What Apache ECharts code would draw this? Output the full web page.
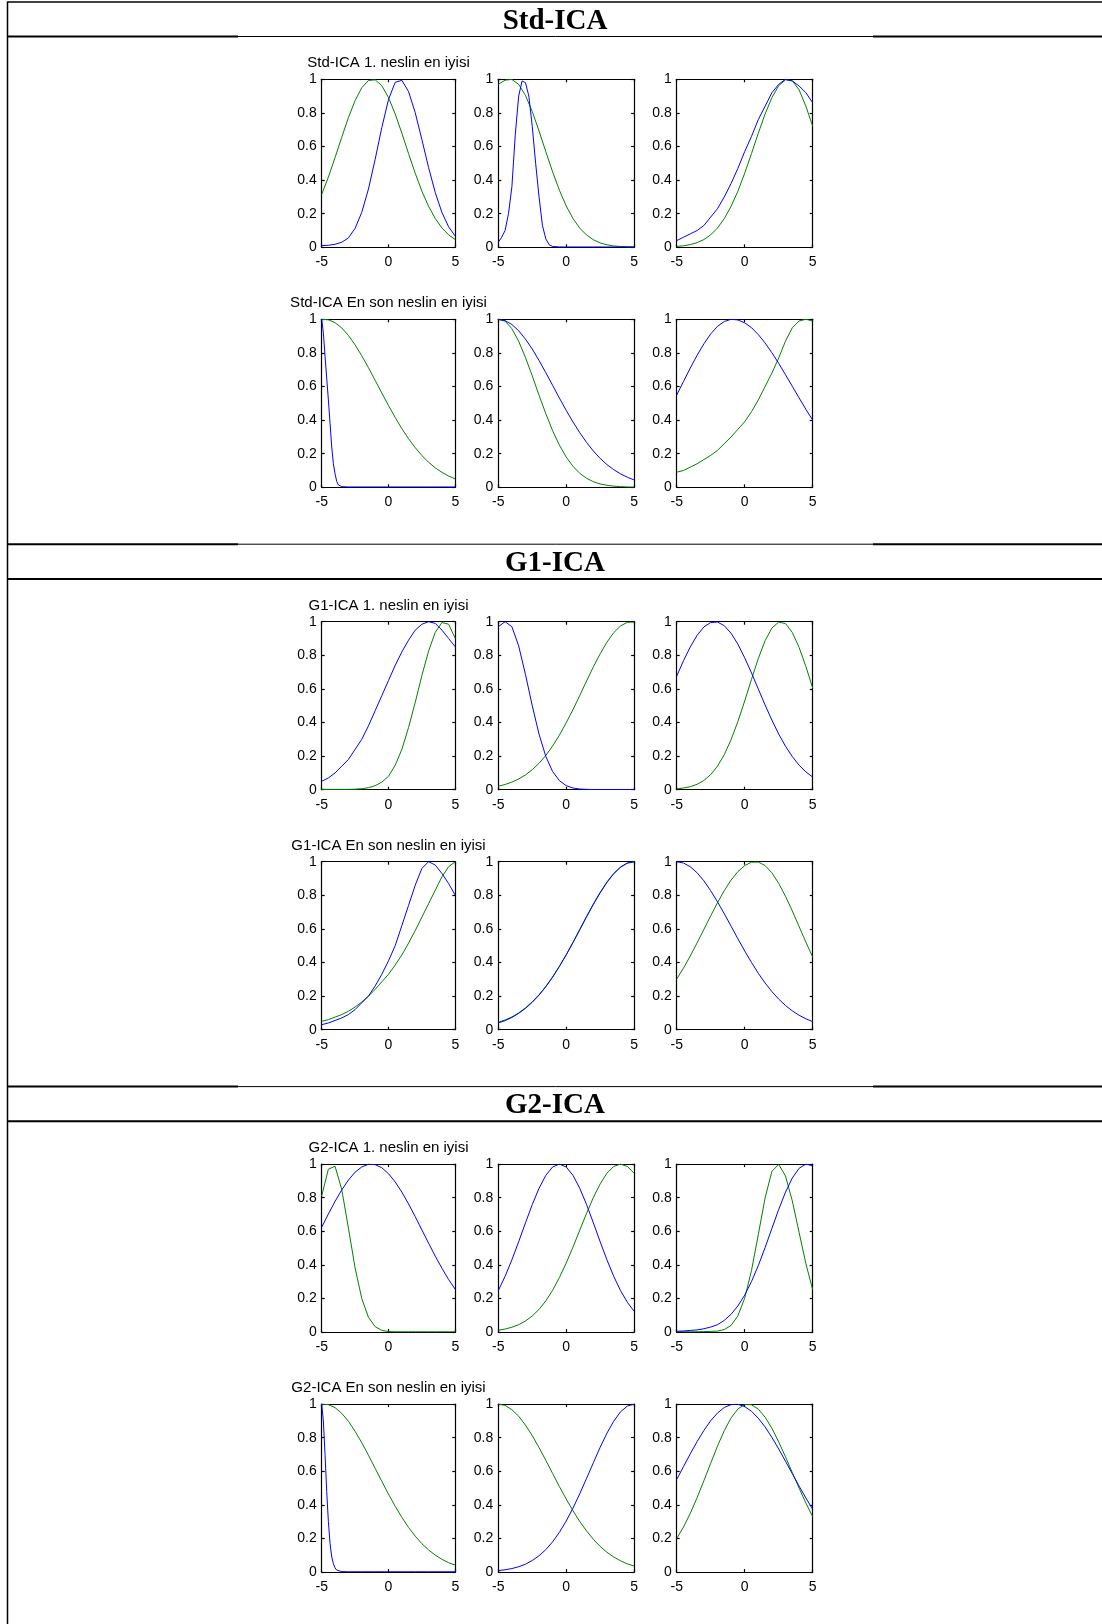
<!DOCTYPE html>
<html>
<head>
<meta charset="utf-8">
<script src="https://cdn.jsdelivr.net/npm/echarts@6/dist/echarts.min.js"></script>
<style>
  html, body { margin: 0; padding: 0; background: #fff; }
  #chart { width: 1102px; height: 1624px; }
</style>
</head>
<body>
<div id="chart"></div>
<script>
// ---- data -------------------------------------------------------------
const sectionNames = ['Std-ICA', 'G1-ICA', 'G2-ICA'];
const rowSuffixes = ['1. neslin en iyisi', 'En son neslin en iyisi'];
const xTickLabels = ['-5', '0', '5'];
const yTickLabels = ['0', '0.2', '0.4', '0.6', '0.8', '1'];

// common sampling of the input range
const xGrid = [-5,-4.5,-4,-3.5,-3,-2.5,-2,-1.5,-1,-0.5,0,0.5,1,1.5,2,2.5,3,3.5,4,4.5,5];
// denser sampling for the narrow membership functions
const xNarrowPeak = [-5,-4.75,-4.5,-4.25,-4,-3.75,-3.5,-3.25,-3,-2.75,-2.5,-2.25,-2,-1.75,-1.5,-1.25,-1,-0.5,0,1,2,3,4,5];
const xNarrowEdge = [-5,-4.875,-4.75,-4.625,-4.5,-4.375,-4.25,-4.125,-4,-3.875,-3.75,-3.5,-3,-2,-1,0,1,2,3,4,5];

// Std-ICA, first generation
const std1Blue1 = [0.01,0.012,0.018,0.03,0.056,0.113,0.208,0.347,0.523,0.713,0.88,0.982,0.994,0.927,0.801,0.641,0.475,0.326,0.207,0.122,0.066];
const std1Green1 = [0.315,0.418,0.534,0.655,0.772,0.873,0.95,0.993,0.997,0.962,0.891,0.794,0.679,0.558,0.441,0.334,0.244,0.171,0.115,0.074,0.046];
const std1Blue2 = [0.03,0.06,0.1,0.2,0.36,0.67,0.9,0.99,0.98,0.9,0.72,0.5,0.3,0.13,0.05,0.015,0.005,0.002,0.002,0.002,0.002,0.002,0.002,0.002];
const std1Green2 = [0.97,0.995,0.999,0.97,0.904,0.808,0.692,0.569,0.449,0.34,0.246,0.171,0.114,0.073,0.045,0.026,0.015,0.008,0.005,0.003,0.002];
const std1Blue3 = [0.04,0.06,0.08,0.1,0.13,0.18,0.23,0.3,0.38,0.47,0.57,0.66,0.76,0.84,0.92,0.97,1.0,0.99,0.96,0.92,0.86];
const std1Green3 = [0.005,0.009,0.016,0.028,0.046,0.074,0.115,0.171,0.244,0.334,0.441,0.558,0.679,0.794,0.891,0.962,0.997,0.991,0.937,0.84,0.72];
// Std-ICA, last generation
const stdLBlue1 = [1,0.92,0.78,0.65,0.52,0.38,0.24,0.14,0.08,0.035,0.014,0.004,0.002,0.002,0.002,0.002,0.002,0.002,0.002,0.002,0.002];
const stdLGreen1 = [1.0,0.997,0.98,0.949,0.904,0.848,0.783,0.712,0.637,0.561,0.487,0.416,0.349,0.289,0.236,0.189,0.149,0.116,0.089,0.067,0.05];
const stdLBlue2 = [1,0.992,0.969,0.932,0.882,0.823,0.755,0.682,0.607,0.531,0.458,0.389,0.325,0.267,0.216,0.172,0.135,0.105,0.08,0.06,0.044];
const stdLGreen2 = [1,0.989,0.944,0.869,0.773,0.663,0.548,0.438,0.337,0.251,0.18,0.125,0.083,0.054,0.033,0.02,0.012,0.007,0.004,0.002,0.001];
const stdLBlue3 = [0.549,0.63,0.71,0.786,0.854,0.913,0.958,0.987,1.0,0.996,0.979,0.95,0.909,0.859,0.801,0.738,0.67,0.601,0.532,0.464,0.4];
const stdLGreen3 = [0.09,0.1,0.12,0.14,0.165,0.19,0.22,0.26,0.3,0.345,0.39,0.45,0.52,0.6,0.68,0.77,0.87,0.95,0.99,1.0,0.99];

// G1-ICA, first generation
const g11Blue1 = [0.05,0.07,0.1,0.14,0.18,0.24,0.3,0.38,0.47,0.56,0.65,0.74,0.82,0.89,0.95,0.985,1.0,0.99,0.95,0.9,0.85];
const g11Green1 = [0.002,0.002,0.002,0.002,0.002,0.003,0.006,0.012,0.024,0.045,0.08,0.145,0.24,0.37,0.52,0.68,0.825,0.937,0.995,0.985,0.9];
const g11Blue2 = [0.97,1.0,0.97,0.856,0.686,0.5,0.33,0.198,0.108,0.054,0.024,0.01,0.004,0.002,0.001,0.001,0.001,0.001,0.001,0.001,0.001];
const g11Green2 = [0.021,0.031,0.045,0.064,0.088,0.119,0.157,0.204,0.26,0.325,0.398,0.477,0.561,0.647,0.731,0.809,0.878,0.935,0.975,0.996,0.998];
const g11Blue3 = [0.676,0.768,0.85,0.919,0.969,0.995,0.998,0.976,0.931,0.866,0.785,0.695,0.599,0.504,0.414,0.331,0.259,0.197,0.146,0.106,0.075];
const g11Green3 = [0.005,0.01,0.018,0.032,0.055,0.09,0.14,0.209,0.298,0.406,0.528,0.657,0.781,0.887,0.962,0.998,0.989,0.936,0.847,0.733,0.605];
// G1-ICA, last generation
const g1LBlue1 = [0.03,0.04,0.055,0.07,0.09,0.12,0.16,0.2,0.26,0.33,0.41,0.5,0.62,0.74,0.86,0.96,1.0,0.98,0.93,0.87,0.8];
const g1LGreen1 = [0.05,0.06,0.075,0.09,0.11,0.135,0.165,0.2,0.24,0.285,0.33,0.385,0.445,0.515,0.59,0.67,0.75,0.83,0.91,0.97,1.0];
const g1LBlue2 = [0.04,0.054,0.073,0.097,0.127,0.163,0.206,0.256,0.313,0.377,0.446,0.52,0.597,0.674,0.748,0.817,0.879,0.93,0.968,0.992,1.0];
const g1LGreen2 = [0.045,0.058,0.076,0.1,0.13,0.166,0.208,0.257,0.314,0.377,0.445,0.518,0.594,0.671,0.745,0.814,0.876,0.928,0.967,0.991,1.0];
const g1LBlue3 = [1,0.992,0.97,0.934,0.886,0.827,0.761,0.69,0.616,0.541,0.469,0.4,0.336,0.278,0.227,0.182,0.144,0.112,0.086,0.065,0.048];
const g1LGreen3 = [0.301,0.367,0.439,0.517,0.597,0.678,0.756,0.828,0.891,0.941,0.977,0.997,0.998,0.977,0.934,0.871,0.794,0.707,0.614,0.521,0.432];

// G2-ICA, first generation
const g21Blue1 = [0.624,0.703,0.778,0.846,0.905,0.952,0.983,0.999,0.997,0.978,0.943,0.894,0.833,0.763,0.687,0.608,0.529,0.452,0.38,0.313,0.254];
const g21Green1 = [0.81,0.97,0.987,0.849,0.619,0.382,0.2,0.088,0.033,0.01,0.003,0.002,0.002,0.002,0.002,0.002,0.002,0.002,0.002,0.002,0.002];
const g21Blue2 = [0.247,0.332,0.43,0.538,0.65,0.759,0.856,0.933,0.983,1.0,0.983,0.933,0.856,0.759,0.65,0.538,0.43,0.332,0.247,0.178,0.124];
const g21Green2 = [0.011,0.018,0.029,0.044,0.066,0.096,0.135,0.186,0.249,0.325,0.411,0.506,0.607,0.707,0.801,0.882,0.946,0.986,1.0,0.986,0.946];
const g21Blue3 = [0.005,0.007,0.01,0.013,0.02,0.03,0.044,0.07,0.106,0.156,0.22,0.301,0.396,0.503,0.617,0.73,0.833,0.917,0.975,1.0,0.99];
const g21Green3 = [0.002,0.002,0.002,0.002,0.003,0.004,0.006,0.015,0.04,0.097,0.202,0.367,0.58,0.799,0.957,0.998,0.929,0.781,0.593,0.407,0.252];
// G2-ICA, last generation
const g2LBlue1 = [1,0.9,0.7,0.48,0.3,0.17,0.09,0.05,0.025,0.012,0.005,0.003,0.002,0.002,0.002,0.002,0.002,0.002,0.002,0.002,0.002];
const g2LGreen1 = [1.0,0.997,0.979,0.945,0.898,0.838,0.77,0.696,0.618,0.54,0.464,0.392,0.326,0.266,0.214,0.169,0.132,0.101,0.076,0.056,0.041];
const g2LBlue2 = [0.009,0.014,0.021,0.032,0.047,0.069,0.097,0.134,0.18,0.237,0.304,0.381,0.467,0.558,0.651,0.743,0.827,0.898,0.954,0.988,1.0];
const g2LGreen2 = [1,0.992,0.967,0.928,0.875,0.812,0.741,0.665,0.587,0.509,0.435,0.365,0.301,0.245,0.195,0.153,0.118,0.09,0.067,0.049,0.036];
const g2LBlue3 = [0.551,0.628,0.704,0.777,0.843,0.901,0.947,0.98,0.997,0.999,0.985,0.957,0.916,0.864,0.802,0.733,0.66,0.586,0.512,0.441,0.374];
const g2LGreen3 = [0.2,0.268,0.35,0.443,0.544,0.648,0.75,0.842,0.918,0.971,0.998,0.996,0.97,0.922,0.856,0.775,0.686,0.592,0.5,0.411,0.33];

// panels in reading order: section -> row -> column
const panels = [
  { bx: xGrid, b: std1Blue1, gx: xGrid, g: std1Green1 },
  { bx: xNarrowPeak, b: std1Blue2, gx: xGrid, g: std1Green2 },
  { bx: xGrid, b: std1Blue3, gx: xGrid, g: std1Green3 },
  { bx: xNarrowEdge, b: stdLBlue1, gx: xGrid, g: stdLGreen1 },
  { bx: xGrid, b: stdLBlue2, gx: xGrid, g: stdLGreen2 },
  { bx: xGrid, b: stdLBlue3, gx: xGrid, g: stdLGreen3 },
  { bx: xGrid, b: g11Blue1, gx: xGrid, g: g11Green1 },
  { bx: xGrid, b: g11Blue2, gx: xGrid, g: g11Green2 },
  { bx: xGrid, b: g11Blue3, gx: xGrid, g: g11Green3 },
  { bx: xGrid, b: g1LBlue1, gx: xGrid, g: g1LGreen1 },
  { bx: xGrid, b: g1LBlue2, gx: xGrid, g: g1LGreen2 },
  { bx: xGrid, b: g1LBlue3, gx: xGrid, g: g1LGreen3 },
  { bx: xGrid, b: g21Blue1, gx: xGrid, g: g21Green1 },
  { bx: xGrid, b: g21Blue2, gx: xGrid, g: g21Green2 },
  { bx: xGrid, b: g21Blue3, gx: xGrid, g: g21Green3 },
  { bx: xNarrowEdge, b: g2LBlue1, gx: xGrid, g: g2LGreen1 },
  { bx: xGrid, b: g2LBlue2, gx: xGrid, g: g2LGreen2 },
  { bx: xGrid, b: g2LBlue3, gx: xGrid, g: g2LGreen3 }
];

// ---- layout -----------------------------------------------------------
const SECTION_SHIFT = 542.4;
const ROW_TOP = [79.3, 319.3];
const PLOT_H = 168;
const COL_LEFT = [321.7, 498.3, 676.7];
const COL_W = [133.6, 135.8, 136];
const BLUE = '#0000ff';
const GREEN = '#008000';
const TICK_FONT = 'Liberation Sans';

const grids = [], xAxes = [], yAxes = [], series = [], graphics = [];

function pairs(xs, ys) { return xs.map((x, i) => [x, ys[i]]); }

function axisCommon(showLabel, extra) {
  return Object.assign({
    type: 'value',
    axisLine: { show: true, onZero: false, lineStyle: { color: '#000', width: 1.2 } },
    axisTick: { show: true, inside: true, length: 3, lineStyle: { color: '#000', width: 1.2 } },
    splitLine: { show: false },
    axisLabel: { show: showLabel, color: '#000', fontSize: 14, fontFamily: TICK_FONT }
  }, extra);
}

panels.forEach((p, i) => {
  const s = Math.floor(i / 6), r = Math.floor((i % 6) / 3), c = i % 3;
  const top = s * SECTION_SHIFT + ROW_TOP[r];
  grids.push({ left: COL_LEFT[c], top: top, width: COL_W[c], height: PLOT_H, containLabel: false });
  const xi = xAxes.length, yi = yAxes.length;
  const xFmt = v => xTickLabels[Math.round((v + 5) / 5)];
  const yFmt = v => yTickLabels[Math.round(v * 5)];
  const xBottom = axisCommon(true, { gridIndex: i, min: -5, max: 5, interval: 5, position: 'bottom' });
  xBottom.axisLabel.formatter = xFmt; xBottom.axisLabel.margin = 8;
  xAxes.push(xBottom);
  xAxes.push(axisCommon(false, { gridIndex: i, min: -5, max: 5, interval: 5, position: 'top' }));
  const yLeft = axisCommon(true, { gridIndex: i, min: 0, max: 1, interval: 0.2, position: 'left' });
  yLeft.axisLabel.formatter = yFmt; yLeft.axisLabel.margin = 5;
  yAxes.push(yLeft);
  yAxes.push(axisCommon(false, { gridIndex: i, min: 0, max: 1, interval: 0.2, position: 'right' }));

  series.push({
    type: 'line', xAxisIndex: xi, yAxisIndex: yi, data: pairs(p.gx, p.g),
    showSymbol: false, symbol: 'none', clip: true, silent: true,
    lineStyle: { color: GREEN, width: 1 }, itemStyle: { color: GREEN }
  });
  series.push({
    type: 'line', xAxisIndex: xi, yAxisIndex: yi, data: pairs(p.bx, p.b),
    showSymbol: false, symbol: 'none', clip: true, silent: true,
    lineStyle: { color: BLUE, width: 1 }, itemStyle: { color: BLUE }
  });

  // one title per row, centred over the first column
  if (c === 0) {
    graphics.push({
      type: 'text', x: COL_LEFT[0] + COL_W[0] / 2, y: top - 16,
      style: { text: sectionNames[s] + ' ' + rowSuffixes[r], font: '15px "Liberation Sans"',
               fill: '#000', textAlign: 'center', textVerticalAlign: 'middle' }
    });
  }
});

// ---- table frame and section headers ------------------------------------
function hline(y, x1, x2, w) {
  graphics.push({ type: 'line', shape: { x1: x1, y1: y, x2: x2, y2: y },
                  style: { stroke: '#000', lineWidth: w } });
}
const LEFT_EDGE = 7.5, RIGHT_EDGE = 1102;
graphics.push({ type: 'line', shape: { x1: LEFT_EDGE, y1: 1.5, x2: LEFT_EDGE, y2: 1624 },
                style: { stroke: '#000', lineWidth: 1.5 } });
hline(2, LEFT_EDGE, RIGHT_EDGE, 1.5);

sectionNames.forEach((name, s) => {
  const off = s * SECTION_SHIFT;
  const headTop = s === 0 ? 2 : off + 1.8;
  const headBottom = off + 36.5;
  if (s > 0) {
    hline(headTop, LEFT_EDGE, 238, 2);
    hline(headTop, 238, 873, 1);
    hline(headTop, 873, RIGHT_EDGE, 2);
    hline(headBottom, LEFT_EDGE, RIGHT_EDGE, 2);
  } else {
    hline(headBottom, LEFT_EDGE, 238, 2);
    hline(headBottom, 238, 873, 1);
    hline(headBottom, 873, RIGHT_EDGE, 2);
  }
  graphics.push({
    type: 'text', x: 555, y: (headTop + headBottom) / 2 + 2,
    style: { text: name, font: 'bold 29px "Liberation Serif"', fill: '#000',
             textAlign: 'center', textVerticalAlign: 'middle' }
  });
});

const chart = echarts.init(document.getElementById('chart'), null, { renderer: 'canvas' });
chart.setOption({
  animation: false,
  backgroundColor: '#fff',
  grid: grids,
  xAxis: xAxes,
  yAxis: yAxes,
  series: series,
  graphic: graphics
});
</script>
</body>
</html>
